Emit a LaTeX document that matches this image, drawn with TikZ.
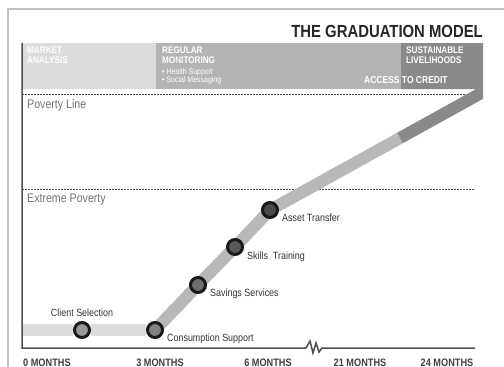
\documentclass[tikz,border=0pt]{standalone}
\usepackage{fontspec}
\setmainfont{Liberation Sans}[FakeStretch=0.85]
\usepackage{xcolor}
\usepackage{tikz}
\usetikzlibrary{positioning}
\usetikzlibrary{backgrounds}
\definecolor{marketgray}{HTML}{DCDCDC}
\definecolor{monitorgray}{HTML}{B4B4B4}
\definecolor{livelygray}{HTML}{8A8A8A}
\definecolor{risegray}{HTML}{B8B8B8}
\definecolor{axisgray}{HTML}{4E4E4E}
\tikzstyle{stage} = [circle, draw=black!90, line width=3pt,
                     minimum size=15pt, inner sep=0pt]
\tikzstyle{lbl} = [font=\fontsize{10.5}{12}\selectfont, text=black!80, inner sep=0pt]
\tikzstyle{month} = [font=\bfseries\fontsize{10.8}{12}\selectfont, text=black!75,
                     inner sep=0pt]
\tikzstyle{head} = [font=\bfseries\fontsize{9.6}{10}\selectfont, text=white,
                    align=left, anchor=north west, inner sep=0pt]
\tikzstyle{bullets} = [font=\fontsize{8.2}{8.7}\selectfont, text=white,
                       align=left, anchor=north west, inner sep=0pt]
\tikzstyle{band} = [line width=12pt, line join=round]
\tikzstyle{threshold} = [draw=axisgray, dash pattern=on 2pt off 1pt, line width=0.9pt]
\tikzstyle{thresholdlbl} = [font=\fontsize{12.5}{14}\selectfont, text=black!55,
                            anchor=base west, inner sep=0pt]
\tikzstyle{axisline} = [draw=axisgray, line width=1.5pt]

\begin{document}
\begin{tikzpicture}[x=1pt, y=-1pt]
  \useasboundingbox (0,0) rectangle (504,367);
  \draw [black!25, line width=1.2pt] (8,367) -- (8,9) -- (504,9);

  % Place nodes
  \node [font=\bfseries\fontsize{17.5}{19}\selectfont, text=black!85, anchor=base east,
         inner sep=0pt] (title) at (483,37.5) {THE GRADUATION MODEL};
  \node [head] (market) at (27,46.5) {MARKET\\ANALYSIS};
  \node [head] (regular) at (162,46.5) {REGULAR\\MONITORING};
  \node [bullets] (support) at (162,68) {\textbullet\ Health Support\\\textbullet\ Social Messaging};
  \node [head] (lively) at (406,46.5) {SUSTAINABLE\\LIVELIHOODS};
  \node [font=\bfseries\fontsize{10}{12}\selectfont, text=white, anchor=base west,
         inner sep=0pt] (credit) at (364,83.3) {ACCESS TO CREDIT};

  \node [thresholdlbl] (povlbl) at (27,108) {Poverty Line};
  \node [thresholdlbl] (extlbl) at (27,202) {Extreme Poverty};

  \node [stage, fill=black!40] (client) at (82,330) {};
  \node [stage, fill=black!50] (cons) at (155,330) {};
  \node [stage, fill=black!57] (save) at (198,285) {};
  \node [stage, fill=black!65] (skill) at (235,247) {};
  \node [stage, fill=black!71] (asset) at (270,210) {};
  \coordinate (credittop) at (400,138);

  \node [lbl, above=4pt of client] (clientlbl) {Client Selection};
  \node [lbl, right=3pt of cons, yshift=-9pt] (conslbl) {Consumption Support};
  \node [lbl, right=3pt of save, yshift=-9pt] (savelbl) {Savings Services};
  \node [lbl, right=3pt of skill, yshift=-9.5pt] (skilllbl) {Skills\ \ Training};
  \node [lbl, right=3pt of asset, yshift=-8pt] (assetlbl) {Asset Transfer};

  \node [month, anchor=base west] (m0) at (23,366) {0 MONTHS};
  \node [month, anchor=base] (m3) at (160,366) {3 MONTHS};
  \node [month, anchor=base] (m6) at (268,366) {6 MONTHS};
  \node [month, anchor=base] (m21) at (360,366) {21 MONTHS};
  \node [month, anchor=base] (m24) at (447,366) {24 MONTHS};

  % Axes
  \coordinate (ytop) at (22,43);
  \coordinate (o) at (22,348);
  \coordinate (brk) at (306,348);
  \coordinate (xend) at (475,348);
  \draw [axisline] (ytop) -- (o) -- (brk) -- ++(4,-7) -- ++(3,12) -- ++(3,-10)
        -- ++(3,9) -- ++(3,-4) -- (xend);

  % Draw bands behind the nodes
  \begin{scope}[on background layer]
    \fill [marketgray] (22,43) rectangle (156,89);
    \fill [monitorgray] (156,43) rectangle (401,89);
    \draw [threshold] (22,94) -- (470,94);
    \draw [threshold] (22,189) -- (475,189);
    \draw [band, marketgray] (ytop |- client) -- (client) -- (cons);
    \draw [band, risegray] (cons.center) -- (save.center) -- (skill.center)
          -- (asset.center) -- (credittop);
    \fill [livelygray] (401,43) -- (483,43) -- (483,98.9) -- (402.9,143.25)
          -- (397.1,132.75) -- (476.1,89) -- (401,89) -- cycle;
  \end{scope}
\end{tikzpicture}
\end{document}
